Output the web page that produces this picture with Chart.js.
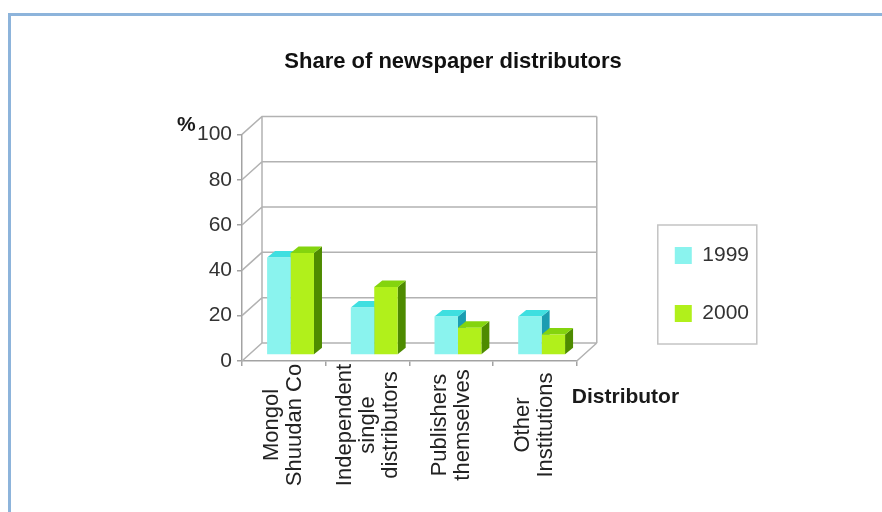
<!DOCTYPE html>
<html>
<head>
<meta charset="utf-8">
<title>Share of newspaper distributors</title>
<script src="https://cdn.jsdelivr.net/npm/chart.js@4.4.0/dist/chart.umd.min.js"></script>
<style>
  html, body { margin: 0; padding: 0; background: #ffffff; }
  #wrap { position: relative; width: 882px; height: 512px; overflow: hidden; background: #ffffff; }
  #frame { position: absolute; left: 8px; top: 13px; width: 900px; height: 530px;
           border: 3px solid #8db4db; box-sizing: border-box; pointer-events: none; }
  canvas { display: block; }
</style>
</head>
<body>
<div id="wrap">
  <canvas id="chart" width="882" height="512"></canvas>
  <div id="frame"></div>
</div>
<script>
// ---- data ----
const CATEGORY_LINES = [
  ['Mongol', 'Shuudan Co'],
  ['Independent', 'single', 'distributors'],
  ['Publishers', 'themselves'],
  ['Other', 'Institutions']
];
const CATEGORIES = CATEGORY_LINES.map(lines => lines.join(' '));
const SERIES_NAMES = ['1999', '2000'];
const SHARE_1999 = [43, 21, 17, 17];
const SHARE_2000 = [45, 30, 12, 9];
const Y_TICKS = [0, 20, 40, 60, 80, 100];

// ---- styling ----
const FONT = "'Liberation Sans', Arial, sans-serif";
const FRONT_COLORS = ['#8af3ee', '#b1f01b'];
const TOP_COLORS = ['#3fdfe0', '#84d40e'];
const SIDE_COLORS = ['#1b9db1', '#4e8b00'];
const LINE_COLOR = '#b2b2b2';
const AXIS_COLOR = '#a3a3a3';

// depth of the box (floor and walls) and of the columns
const WALL_DX = 20, WALL_DY = 18;
const BAR_SHIFT_X = 6.7, BAR_SHIFT_Y = 6;
const BAR_DEPTH_X = 8, BAR_DEPTH_Y = 6.5;

const LEGEND_PAD = 37;
const LEGEND_BOX = 17;
const LEGEND_FONT = 21;

// back wall, floor and the tops / right sides of the columns
const box3d = {
  id: 'box3d',
  beforeDatasetsDraw(chart) {
    const { ctx, chartArea: a, scales: { y } } = chart;
    const y0 = y.getPixelForValue(0);
    const yTop = y.getPixelForValue(100);
    ctx.save();
    ctx.strokeStyle = LINE_COLOR;
    ctx.lineWidth = 1.5;
    ctx.beginPath();
    Y_TICKS.forEach(v => {
      const py = y.getPixelForValue(v);
      ctx.moveTo(a.left, py);
      ctx.lineTo(a.left + WALL_DX, py - WALL_DY);
      ctx.lineTo(a.right + WALL_DX, py - WALL_DY);
    });
    ctx.moveTo(a.left + WALL_DX, yTop - WALL_DY);
    ctx.lineTo(a.left + WALL_DX, y0 - WALL_DY);
    ctx.moveTo(a.right + WALL_DX, yTop - WALL_DY);
    ctx.lineTo(a.right + WALL_DX, y0 - WALL_DY);
    ctx.moveTo(a.right, y0);
    ctx.lineTo(a.right + WALL_DX, y0 - WALL_DY);
    ctx.stroke();
    ctx.restore();

    // columns stand a third of the way into the floor
    ctx.save();
    ctx.translate(BAR_SHIFT_X, -BAR_SHIFT_Y);
    const n = CATEGORIES.length;
    for (let k = 0; k < n; k++) {
      chart.data.datasets.forEach((ds, i) => {
        const bar = chart.getDatasetMeta(i).data[k];
        if (!bar) return;
        const { x, y: top, base, width } = bar.getProps(['x', 'y', 'base', 'width'], true);
        const l = x - width / 2, r = x + width / 2;
        ctx.fillStyle = SIDE_COLORS[i];
        ctx.beginPath();
        ctx.moveTo(r, top);
        ctx.lineTo(r + BAR_DEPTH_X, top - BAR_DEPTH_Y);
        ctx.lineTo(r + BAR_DEPTH_X, base - BAR_DEPTH_Y);
        ctx.lineTo(r, base);
        ctx.closePath();
        ctx.fill();
        ctx.fillStyle = TOP_COLORS[i];
        ctx.beginPath();
        ctx.moveTo(l, top);
        ctx.lineTo(l + BAR_DEPTH_X, top - BAR_DEPTH_Y);
        ctx.lineTo(r + BAR_DEPTH_X, top - BAR_DEPTH_Y);
        ctx.lineTo(r, top);
        ctx.closePath();
        ctx.fill();
      });
    }
  },
  afterDatasetsDraw(chart) {
    chart.ctx.restore();
  },
  afterDraw(chart) {
    const { ctx, chartArea: a, scales: { x }, legend } = chart;
    ctx.save();
    // legend frame
    const rows = SERIES_NAMES.length;
    const itemsTop = legend.bottom - rows * (LEGEND_FONT + LEGEND_PAD);
    const bx = legend.left + LEGEND_PAD - LEGEND_BOX;
    const bh = rows * (LEGEND_FONT + LEGEND_PAD) - LEGEND_PAD + 40;
    ctx.strokeStyle = '#c4c4c4';
    ctx.lineWidth = 1.5;
    ctx.strokeRect(bx, itemsTop - 20, 99, bh);

    // category labels, written bottom-to-top
    ctx.fillStyle = '#222';
    ctx.font = `22px ${FONT}`;
    ctx.textAlign = 'center';
    ctx.textBaseline = 'middle';
    CATEGORY_LINES.forEach((lines, k) => {
      const px = x.getPixelForValue(k);
      lines.forEach((txt, j) => {
        const off = (j - (lines.length - 1) / 2) * 23;
        ctx.save();
        ctx.translate(px + off, 425);
        ctx.rotate(-Math.PI / 2);
        ctx.fillText(txt, 0, 0);
        ctx.restore();
      });
    });

    // axis captions
    ctx.fillStyle = '#1a1a1a';
    ctx.font = `bold 21px ${FONT}`;
    ctx.textAlign = 'left';
    ctx.fillText('%', a.left - 65, 125);
    ctx.fillText('Distributor', a.right - 5, 397);
    ctx.restore();
  }
};

new Chart(document.getElementById('chart'), {
  type: 'bar',
  data: {
    labels: CATEGORIES,
    datasets: [
      { label: SERIES_NAMES[0], data: SHARE_1999, backgroundColor: FRONT_COLORS[0], borderWidth: 0 },
      { label: SERIES_NAMES[1], data: SHARE_2000, backgroundColor: FRONT_COLORS[1], borderWidth: 0 }
    ]
  },
  options: {
    responsive: false,
    devicePixelRatio: 1,
    animation: false,
    categoryPercentage: 0.56,
    barPercentage: 1.0,
    layout: { padding: { left: 147, right: 123, top: 0, bottom: 0 } },
    plugins: {
      title: {
        display: true,
        text: 'Share of newspaper distributors',
        color: '#111',
        font: { family: FONT, size: 22, weight: 'bold' },
        padding: { top: 49, bottom: 59 }
      },
      legend: {
        position: 'right',
        align: 'end',
        fullSize: false,
        maxWidth: 140,
        labels: {
          boxWidth: LEGEND_BOX,
          boxHeight: LEGEND_BOX,
          padding: LEGEND_PAD,
          color: '#333',
          font: { family: FONT, size: LEGEND_FONT },
          sort: (p, q) => p.datasetIndex - q.datasetIndex
        }
      },
      tooltip: { enabled: false }
    },
    scales: {
      x: {
        grid: { display: true, offset: true, drawOnChartArea: false, tickLength: 5, color: AXIS_COLOR, lineWidth: 1.5 },
        border: { display: true, color: AXIS_COLOR, width: 1.5 },
        ticks: { display: false },
        afterFit(s) { s.height = 151; }
      },
      y: {
        min: 0,
        max: 100,
        afterBuildTicks(s) { s.ticks = Y_TICKS.map(v => ({ value: v })); },
        grid: { display: true, drawOnChartArea: false, tickLength: 5, color: AXIS_COLOR, lineWidth: 1.5 },
        border: { display: true, color: AXIS_COLOR, width: 1.5 },
        ticks: { color: '#333', padding: 5, font: { family: FONT, size: 21 } },
        afterFit(s) { s.width = 95; }
      },
      gap: {
        type: 'linear',
        position: 'right',
        display: true,
        grid: { display: false, drawTicks: false },
        border: { display: false },
        ticks: { display: false },
        afterFit(s) { s.width = 61; }
      }
    }
  },
  plugins: [box3d]
});
</script>
</body>
</html>
